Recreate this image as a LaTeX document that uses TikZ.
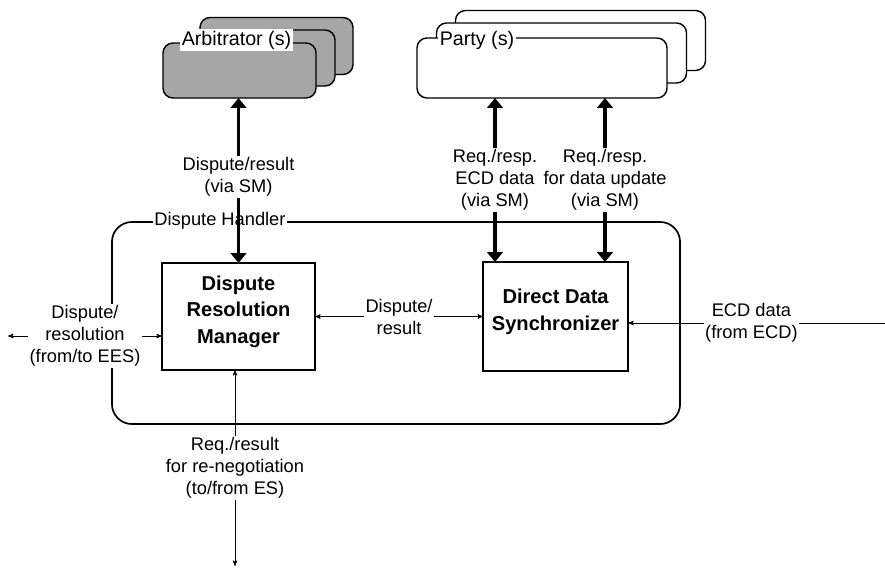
\documentclass[tikz,border=0pt]{standalone}
\usepackage{fontspec}
\setmainfont{Liberation Sans}
\usetikzlibrary{arrows,arrows.meta,positioning}
\definecolor{arbgray}{RGB}{166,166,166}

\begin{document}
\begin{tikzpicture}[x=0.025cm,y=-0.025cm,>=stealth',
    every node/.style={outer sep=0pt,font=\fontsize{13}{15.6}\selectfont},
    stack/.style={draw,line width=1pt,rounded corners=0.25cm},
    block/.style={draw,line width=1pt,align=center,text depth=0.35cm,font=\fontsize{14.3}{19}\selectfont\bfseries},
    tag/.style={fill=white,inner sep=1pt,align=center},
    head/.style={fill=white,inner sep=1pt,font=\fontsize{14}{17}\selectfont},
    sig/.style={line width=0.5pt},
    bus/.style={line width=2.5pt,{Triangle[length=7pt,width=11pt]}-{Triangle[length=7pt,width=11pt]}}]
    \useasboundingbox (0,0) rectangle (885,568);

    % arbitrators
    \node[stack,fill=arbgray,minimum width=3.825cm,minimum height=1.425cm] (arb3) at (276.5,46)   {};
    \node[stack,fill=arbgray,minimum width=3.825cm,minimum height=1.4cm]   (arb2) at (258.5,58)   {};
    \node[stack,fill=arbgray,minimum width=3.825cm,minimum height=1.375cm] (arb1) at (239.5,70.5) {};
    \node[head] (arbl) at (236.5,40) {Arbitrator (s)};

    % parties
    \node[stack,fill=white,minimum width=6.25cm,minimum height=1.5cm] (pty3) at (580.5,40.5) {};
    \node[stack,fill=white,minimum width=6.25cm,minimum height=1.5cm] (pty2) at (561.5,53)   {};
    \node[stack,fill=white,minimum width=6.25cm,minimum height=1.5cm] (pty1) at (542,68)     {};
    \node[head] (ptyl) at (477,40) {Party (s)};

    % dispute handler
    \node[draw,line width=1.2pt,rounded corners=0.5cm,minimum width=14.2cm,minimum height=5.05cm] (dh) at (396,323) {};
    \node[tag] (dhl) at (220,221) {Dispute Handler};

    \node[block,minimum width=3.825cm,minimum height=2.675cm] (drm) at (238.5,316.5) {Dispute\\Resolution\\Manager};
    \node[block,minimum width=3.625cm,minimum height=2.725cm] (dds) [right=4.2cm of drm] {Direct Data\\Synchronizer};

    \coordinate (ees) at (8,336);
    \coordinate (ecd) at (885,323);
    \coordinate (es)  at (235,566);
    \coordinate (xa)  at (495,0);
    \coordinate (xb)  at (605,0);

    \draw[bus] (arb1.south -| drm.north) -- node[tag,pos=0.48] {Dispute/result\\(via SM)} (drm.north);
    \draw[bus] (pty1.south -| xa) -- node[tag] {Req./resp.\\ECD data\\(via SM)} (dds.north -| xa);
    \draw[bus] (pty1.south -| xb) -- node[tag] {Req./resp.\\for data update\\(via SM)} (dds.north -| xb);

    \path[sig]
      (drm) edge[<->]          node[tag] {Dispute/\\result} (dds)
      (ees) edge[<->]          node[tag] {Dispute/\\resolution\\(from/to EES)} (drm.west |- ees)
      (ecd) edge[->]           node[tag,pos=0.52] {ECD data\\(from ECD)} (dds.east |- ecd)
      (es)  edge[<->]          node[tag] {Req./result\\for re-negotiation\\(to/from ES)} (drm.south -| es);
\end{tikzpicture}
\end{document}
